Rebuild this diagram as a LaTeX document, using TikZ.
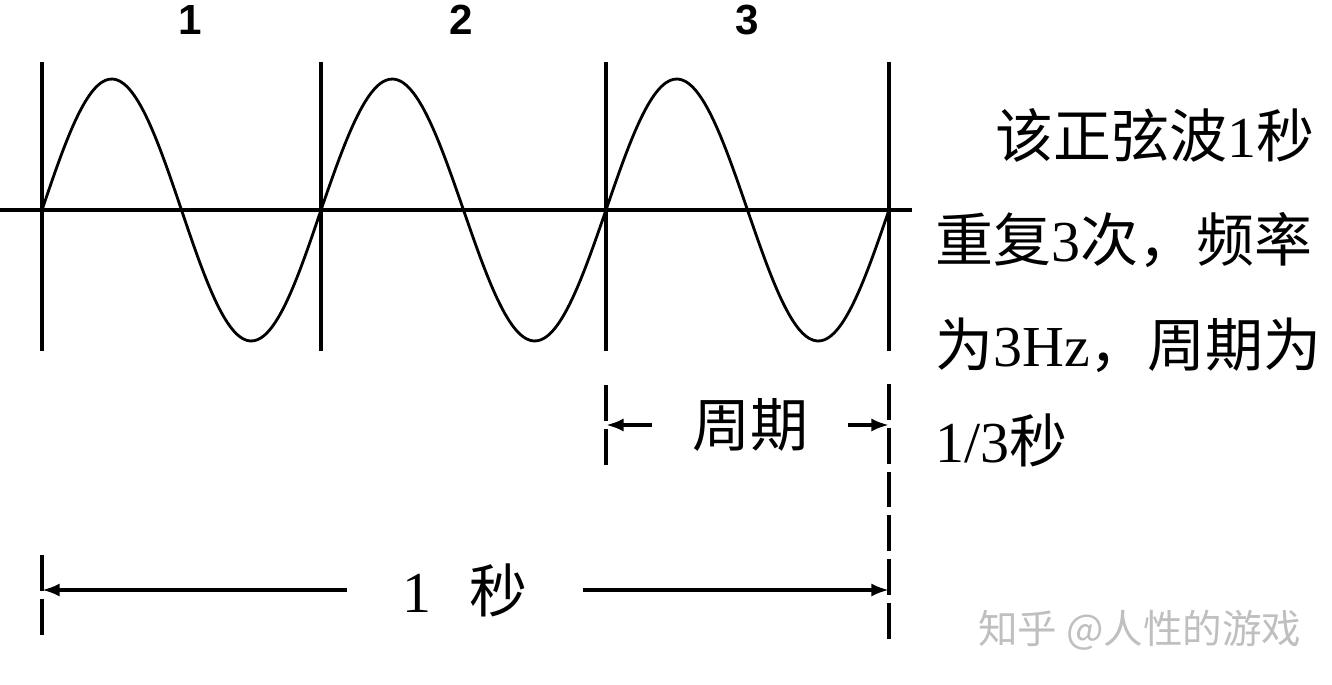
\documentclass[tikz,border=0pt]{standalone}
\usepackage{fontspec}
\setmainfont{Liberation Serif}
\newfontfamily\zhfont{Noto Sans CJK SC}
\newfontfamily\numfont{Liberation Sans}
\usetikzlibrary{arrows.meta}

\newcommand{\zh}[1]{{\zhfont #1}}

\tikzset{
  axis/.style={line width=2.3pt},
  wave/.style={line width=1.6pt},
  ext/.style={line width=2.3pt, dash pattern=on 20.4pt off 4.5pt},
  dim/.style={line width=2.3pt, -{Latex[length=10pt,width=7.5pt]}},
  lbl/.style={font=\fontsize{33}{36}\selectfont, inner sep=0pt},
  num/.style={font=\numfont\bfseries\fontsize{24}{26}\selectfont, inner sep=0pt},
  wmark/.style={font=\zhfont\fontsize{22.5}{24}\selectfont, text=black!25, inner sep=0pt}
}

\begin{document}
\begin{tikzpicture}[x=0.02cm,y=-0.02cm]
\useasboundingbox (0,0) rectangle (1332,684);

\coordinate (o) at (0,210);
\coordinate (e) at (912,210);
\draw[axis] (o) -- (e);
\foreach \n/\x in {a/42,b/321,c/606,d/889}{
  \coordinate (\n top) at (\x,62);
  \coordinate (\n bot) at (\x,351);
  \draw[axis] (\n top) -- (\n bot);
}
\foreach \a/\b in {42/321,321/606,606/889}
  \draw[wave] plot[domain=0:1,samples=80,smooth] ({\a+(\b-\a)*\x},{210-131*sin(360*\x)});

\node[num] (n1) at (190,20) {1};
\node[num] (n2) at (461,20) {2};
\node[num] (n3) at (747,20) {3};

% period
\coordinate (pa) at (606,385);
\coordinate (pb) at (606,465);
\coordinate (pc) at (889,384);
\coordinate (pd) at (889,640);
\coordinate (p1) at (606,425);
\coordinate (p2) at (889,425);
\draw[ext] (pa) -- (pb);
\draw[ext] (pc) -- (pd);
\node[lbl, inner xsep=0.8cm] (per) at (750,425) {\zh{周期}};
\draw[dim] (per.west) -- (p1);
\draw[dim] (per.east) -- (p2);

% one second
\coordinate (sa) at (42,555);
\coordinate (sb) at (42,635);
\coordinate (s1) at (42,590);
\coordinate (s2) at (889,590);
\draw[ext] (sa) -- (sb);
\node[lbl, inner xsep=1.1cm] (sec) at (465,590) {1\hspace{0.75cm}\zh{秒}};
\draw[dim] (sec.west) -- (s1);
\draw[dim] (sec.east) -- (s2);

\node[lbl, anchor=west] (t1) at (995,135) {\zh{该正弦波}1\zh{秒}};
\node[lbl, anchor=west] (t2) at (935,240) {\zh{重复}3\zh{次，频率}};
\node[lbl, anchor=west] (t3) at (935,345) {\zh{为}3Hz\zh{，周期为}};
\node[lbl, anchor=west] (t4) at (935,440) {1/3\zh{秒}};

\node[wmark, anchor=west] (wm) at (978,630) {知乎 @人性的游戏};
\end{tikzpicture}
\end{document}
